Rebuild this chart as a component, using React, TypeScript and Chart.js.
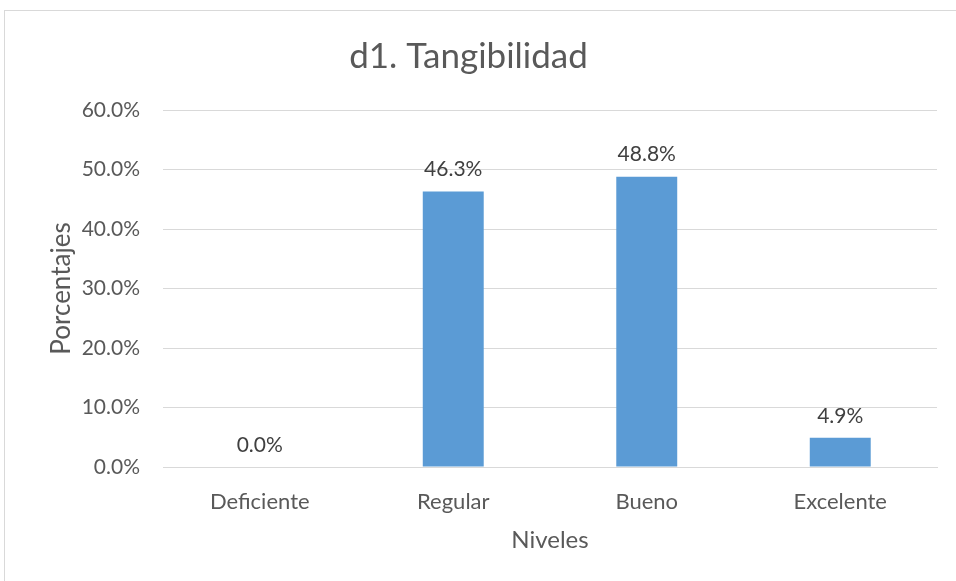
import React, { useEffect, useRef } from "react";
import { Chart, registerables } from "chart.js";

Chart.register(...registerables);

const categories = ["Deficiente", "Regular", "Bueno", "Excelente"];
const percentages = [0.0, 46.3, 48.8, 4.9];
const yTicks = [0, 10, 20, 30, 40, 50, 60];

const FONT = "Lato, 'Open Sans', sans-serif";

const valueLabels = {
  id: "valueLabels",
  afterDatasetsDraw(chart: any) {
    const ctx = chart.ctx;
    const meta = chart.getDatasetMeta(0);
    ctx.save();
    ctx.font = `21px ${FONT}`;
    ctx.fillStyle = "#404040";
    ctx.textAlign = "center";
    ctx.textBaseline = "middle";
    meta.data.forEach((bar: any, i: number) => {
      const v = percentages[i];
      ctx.fillText(v.toFixed(1) + "%", bar.x, bar.y - 22);
    });
    ctx.restore();
  },
};

export default function App() {
  const ref = useRef<HTMLCanvasElement>(null);
  useEffect(() => {
    if (!ref.current) return;
    const chart = new Chart(ref.current, {
      type: "bar",
      data: {
        labels: categories,
        datasets: [
          {
            data: percentages,
            backgroundColor: "#5B9BD5",
            categoryPercentage: 1,
            barPercentage: 0.315,
          },
        ],
      },
      options: {
        responsive: false,
        animation: false,
        layout: { padding: { left: 0, right: 19, top: 0, bottom: 0 } },
        plugins: {
          legend: { display: false },
          tooltip: { enabled: false },
          title: {
            display: true,
            text: "d1. Tangibilidad",
            color: "#595959",
            font: { family: FONT, size: 35, weight: "normal", lineHeight: 1.2 },
            padding: { top: 36, bottom: 32 },
          },
        },
        scales: {
          x: {
            grid: { display: false },
            border: { display: true, color: "#d9d9d9" },
            ticks: {
              color: "#595959",
              font: { family: FONT, size: 22 },
              padding: 14,
              maxRotation: 0,
            },
            title: {
              display: true,
              text: "Niveles",
              color: "#595959",
              font: { family: FONT, size: 24, lineHeight: 1.2 },
              padding: { top: 0, bottom: 26 },
            },
            afterFit: (s: any) => {
              s.height = 114;
            },
          },
          y: {
            min: 0,
            max: 60,
            afterBuildTicks: (s: any) => {
              s.ticks = yTicks.map((v) => ({ value: v }));
            },
            grid: { color: "#d9d9d9", drawTicks: false, lineWidth: 1 },
            border: { display: false },
            ticks: {
              color: "#595959",
              font: { family: FONT, size: 21 },
              padding: 23,
              callback: (v: any) => Number(v).toFixed(1) + "%",
            },
            title: {
              display: true,
              text: "Porcentajes",
              color: "#595959",
              font: { family: FONT, size: 26, lineHeight: 1.2 },
              padding: { top: 46, bottom: 0 },
            },
            afterFit: (s: any) => {
              s.width = 163;
            },
          },
        },
      },
      plugins: [valueLabels],
    });
    return () => chart.destroy();
  }, []);

  return (
    <div style={{ position: "fixed", left: 0, top: 0, width: 956, height: 581, background: "#fff", overflow: "hidden" }}>
      <div
        style={{
          position: "absolute",
          left: 4,
          top: 10,
          width: 1000,
          height: 700,
          border: "1px solid #d9d9d9",
          boxSizing: "border-box",
        }}
      />
      <canvas ref={ref} width={956} height={581} style={{ position: "absolute", left: 0, top: 0 }} />
    </div>
  );
}
